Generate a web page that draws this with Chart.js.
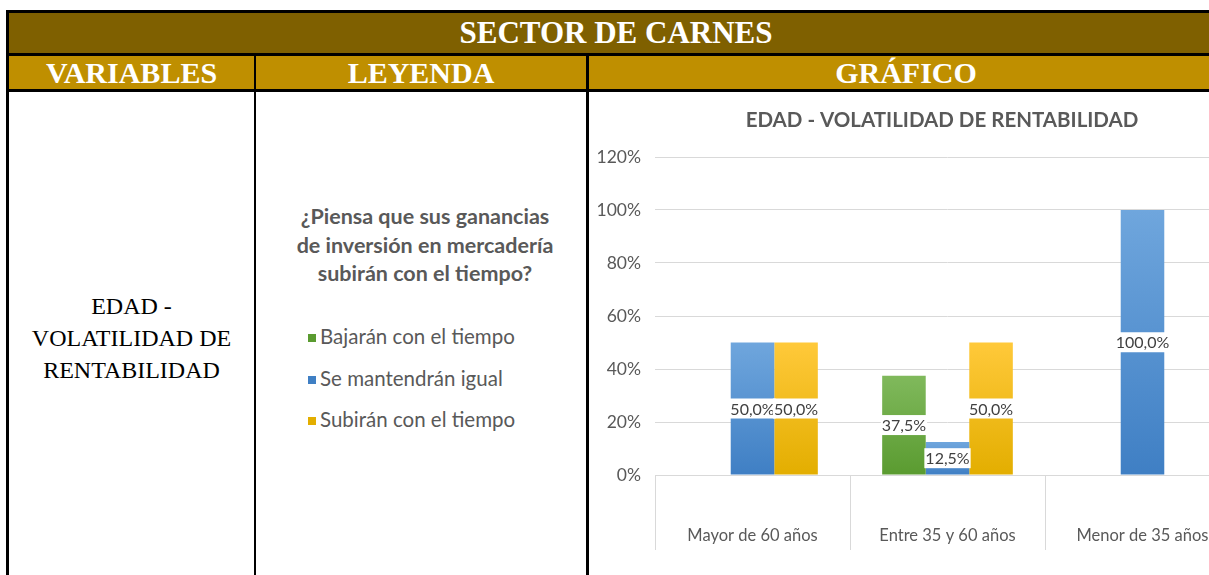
<!DOCTYPE html>
<html>
<head>
<meta charset="utf-8">
<script src="https://cdn.jsdelivr.net/npm/chart.js@4.4.1/dist/chart.umd.min.js"></script>
<style>
  html, body { margin: 0; padding: 0; background: #fff; width: 1209px; height: 575px; overflow: hidden; }
  .abs { position: absolute; box-sizing: border-box; }
  .hdr { color: #fff; font-family: "Liberation Serif", "Times New Roman", serif; font-weight: bold; text-align: center; }
  #legend { font-family: Lato, "Open Sans", sans-serif; color: #595959; }
  .q { font-weight: bold; font-size: 21.5px; line-height: 28.5px; text-align: center; }
  .item { position: absolute; left: 0; font-size: 20.5px; white-space: nowrap; }
  .item span.sw { display: inline-block; width: 8px; height: 8px; margin-right: 4px; vertical-align: 2px; }
</style>
</head>
<body>
<!-- table frame -->
<div class="abs" style="left:6px;top:10px;width:1220px;height:570px;border:3px solid #000;"></div>
<div class="abs hdr" style="left:9px;top:13px;width:1214px;height:40px;background:#7f6000;font-size:31px;line-height:40px;">SECTOR DE CARNES</div>
<div class="abs" style="left:9px;top:53px;width:1214px;height:3px;background:#000;"></div>
<div class="abs hdr" style="left:9px;top:56px;width:245px;height:33px;background:#bf8f00;font-size:30px;line-height:34px;">VARIABLES</div>
<div class="abs hdr" style="left:256px;top:56px;width:330px;height:33px;background:#bf8f00;font-size:30px;line-height:34px;">LEYENDA</div>
<div class="abs hdr" style="left:589px;top:56px;width:634px;height:33px;background:#bf8f00;font-size:30px;line-height:34px;">GRÁFICO</div>
<div class="abs" style="left:9px;top:89px;width:1214px;height:3px;background:#000;"></div>
<div class="abs" style="left:254px;top:56px;width:2px;height:530px;background:#000;"></div>
<div class="abs" style="left:586px;top:56px;width:3px;height:530px;background:#000;"></div>

<div class="abs" style="left:9px;top:290px;width:245px;font-family:'Liberation Serif','Times New Roman',serif;font-size:24px;line-height:32px;text-align:center;color:#000;">EDAD -<br>VOLATILIDAD DE<br>RENTABILIDAD</div>

<div id="legend" class="abs" style="left:260px;top:202px;width:330px;height:240px;">
  <div class="q">¿Piensa que sus ganancias<br>de inversión en mercadería<br>subirán con el tiempo?</div>
</div>

<div class="abs" style="left:589px;top:92px;width:706px;height:483px;">
  <canvas id="chart" width="706" height="483"></canvas>
</div>

<script>
const chartTitle = 'EDAD - VOLATILIDAD DE RENTABILIDAD';
const categories = ['Mayor de 60 años', 'Entre 35 y 60 años', 'Menor de 35 años'];
const seriesNames = ['Bajarán con el tiempo', 'Se mantendrán igual', 'Subirán con el tiempo'];
const bajaran = [0, 0.375, 0];
const mantendran = [0.5, 0.125, 1.0];
const subiran = [0.5, 0.5, 0];
const yTicks = [0, 0.2, 0.4, 0.6, 0.8, 1.0, 1.2];

// top / bottom colours of each series gradient
const seriesColors = [
  ['#80b95c', '#5a9b30'],
  ['#6fa6dd', '#3f7fc4'],
  ['#ffc93a', '#e3ae00']
];

// legend column, built from the series
const legendEl = document.getElementById('legend');
seriesNames.forEach((name, i) => {
  const d = document.createElement('div');
  d.className = 'item';
  d.style.left = '48px';
  d.style.top = (122 + i * 41.5) + 'px';
  d.innerHTML = '<span class="sw" style="background:' + seriesColors[i][1] + '"></span>' + name;
  legendEl.appendChild(d);
});

function barGradient(i) {
  return (ctx) => {
    const chart = ctx.chart;
    if (!chart.chartArea || ctx.type !== 'data') return seriesColors[i][1];
    const y = chart.scales.y;
    const top = y.getPixelForValue(ctx.raw);
    const base = y.getPixelForValue(0);
    if (!isFinite(top) || top === base) return seriesColors[i][1];
    const g = chart.ctx.createLinearGradient(0, top, 0, base);
    g.addColorStop(0, seriesColors[i][0]);
    g.addColorStop(1, seriesColors[i][1]);
    return g;
  };
}

const valueLabels = {
  id: 'valueLabels',
  afterDatasetsDraw(chart) {
    const c = chart.ctx;
    c.save();
    c.font = '16px Lato, "Open Sans", sans-serif';
    c.textAlign = 'center';
    c.textBaseline = 'middle';
    chart.data.datasets.forEach((ds, di) => {
      const meta = chart.getDatasetMeta(di);
      meta.data.forEach((bar, j) => {
        const v = ds.data[j];
        if (!v) return;
        const txt = (v * 100).toFixed(1).replace('.', ',') + '%';
        const cy = (bar.y + bar.base) / 2;
        const w = c.measureText(txt).width + 2;
        c.fillStyle = '#ffffff';
        c.fillRect(bar.x - w / 2, cy - 10, w, 20);
        c.fillStyle = '#404040';
        c.fillText(txt, bar.x, cy + 1);
      });
    });
    c.restore();
  }
};

const datasets = [bajaran, mantendran, subiran].map((data, i) => ({
  label: seriesNames[i],
  data: data,
  backgroundColor: barGradient(i),
  borderWidth: 0,
  categoryPercentage: 0.67,
  barPercentage: 1
}));

new Chart(document.getElementById('chart'), {
  type: 'bar',
  data: { labels: categories, datasets: datasets },
  options: {
    responsive: false,
    animation: false,
    layout: { padding: 0 },
    plugins: {
      legend: { display: false },
      tooltip: { enabled: false },
      title: {
        display: true,
        text: chartTitle,
        color: '#595959',
        font: { family: 'Lato, "Open Sans", sans-serif', size: 20.5, weight: 'bold', lineHeight: 1.2 },
        padding: { top: 16, bottom: 24.4 }
      }
    },
    scales: {
      x: {
        offset: true,
        grid: { offset: true, drawOnChartArea: false, drawTicks: true, tickLength: 75, color: '#d9d9d9', tickColor: '#d9d9d9' },
        border: { display: true, color: '#d9d9d9', width: 1 },
        ticks: { color: '#595959', font: { family: 'Lato, "Open Sans", sans-serif', size: 16.5 }, padding: -24, maxRotation: 0 },
        afterFit(scale) { scale.height = 100; }
      },
      y: {
        min: 0,
        max: 1.2,
        afterBuildTicks(scale) { scale.ticks = yTicks.map(v => ({ value: v })); },
        grid: { color: '#d9d9d9', drawTicks: false },
        border: { display: false },
        ticks: {
          color: '#595959',
          font: { family: 'Lato, "Open Sans", sans-serif', size: 17.5 },
          padding: 14,
          callback: (v) => Math.round(v * 100) + '%'
        },
        afterFit(scale) { scale.width = 66; }
      },
      // empty right axis: keeps the chart's right margin so the title centres like the original
      yRight: {
        position: 'right',
        min: 0,
        max: 1.2,
        grid: { display: false },
        border: { display: false },
        ticks: { display: false },
        afterFit(scale) { scale.width = 55; }
      }
    }
  },
  plugins: [valueLabels]
});
</script>
</body>
</html>
